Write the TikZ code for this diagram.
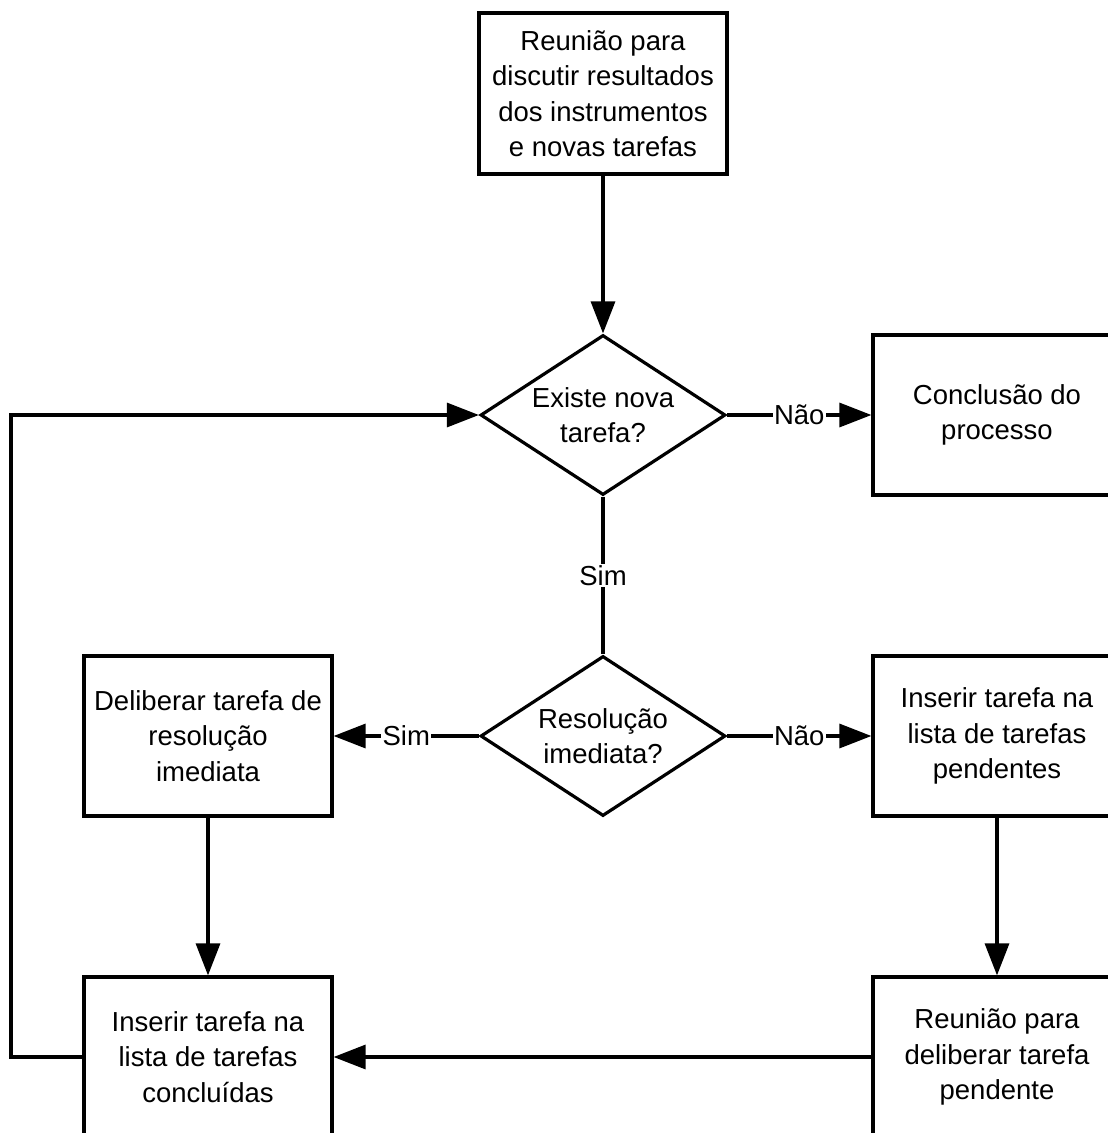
\documentclass[tikz,border=0pt]{standalone}
\usepackage{fontspec}
\setmainfont{Liberation Sans}
\usetikzlibrary{shapes.geometric,arrows.meta}
\begin{document}
\begin{tikzpicture}[x=1pt,y=-1pt,
 every node/.style={font=\fontsize{27.5}{35.5}\selectfont, align=center},
 box/.style={draw, line width=3.2pt, minimum width=248pt, minimum height=160pt, inner sep=0pt},
 dec/.style={draw, diamond, line width=3.2pt, minimum width=245pt, minimum height=160pt, inner sep=0pt},
 conn/.style={line width=3.2pt, -{Triangle[length=32pt,width=24pt]}},
 plain/.style={line width=3.2pt},
 lbl/.style={fill=white, inner sep=1.5pt}]
\useasboundingbox (0,0) rectangle (1108,1133);
\clip (0,0) rectangle (1108,1133);
\node[box, minimum height=161pt] (top) at (603,93.5) {Reunião para\\discutir resultados\\dos instrumentos\\e novas tarefas};
\node[dec] (d1) at (603,415) {};
\node (d1t) at (603,415) {Existe nova\\tarefa?};
\node[box] (concl) at (997,415) {Conclusão do\\processo};
\node[dec] (d2) at (603,736) {};
\node (d2t) at (603,736) {Resolução\\imediata?};
\node[box] (lbox) at (208,736) {Deliberar tarefa de\\resolução\\imediata};
\node[box] (rbox) at (997,736) {Inserir tarefa na\\lista de tarefas\\pendentes};
\node[box] (blbox) at (208,1057) {Inserir tarefa na\\lista de tarefas\\concluídas};
\node[box] (brbox) at (997,1057) {Reunião para\\deliberar tarefa\\pendente};
\coordinate (lp) at (11,1057);
\draw[conn] (top.south) -- (d1.north);
\draw[conn] (d1.east) -- node[lbl]{Não} (concl.west);
\draw[plain] (d1.south) -- node[lbl]{Sim} (d2.north);
\draw[conn] (d2.west) -- node[lbl]{Sim} (lbox.east);
\draw[conn] (d2.east) -- node[lbl]{Não} (rbox.west);
\draw[conn] (lbox.south) -- (blbox.north);
\draw[conn] (rbox.south) -- (brbox.north);
\draw[conn] (brbox.west) -- (blbox.east);
\draw[conn] (blbox.west) -- (lp) |- (d1.west);
\end{tikzpicture}
\end{document}
